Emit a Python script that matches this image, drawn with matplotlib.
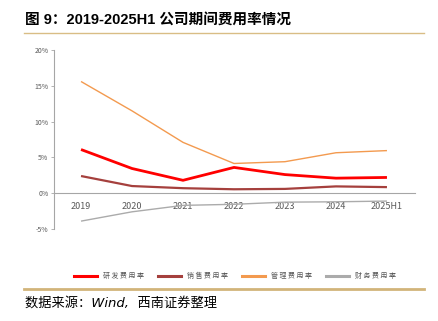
import matplotlib.pyplot as plt
from matplotlib.lines import Line2D

plt.rcParams['font.family'] = ['Noto Sans CJK SC', 'DejaVu Sans']

# 期间费用率（%）
years = ["2019", "2020", "2021", "2022", "2023", "2024", "2025H1"]
rd_rate = [6.1, 3.45, 1.8, 3.6, 2.6, 2.1, 2.2]
sales_rate = [2.4, 1.0, 0.7, 0.55, 0.6, 0.95, 0.85]
admin_rate = [15.6, 11.5, 7.1, 4.15, 4.4, 5.65, 5.95]
fin_rate = [-3.9, -2.6, -1.7, -1.55, -1.25, -1.2, -1.1]
yticks = [-5, 0, 5, 10, 15, 20]

series = [
    ("研发费用率", rd_rate, "#FF0000", 2.0),
    ("销售费用率", sales_rate, "#A5403D", 1.6),
    ("管理费用率", admin_rate, "#F39A4F", 1.0),
    ("财务费用率", fin_rate, "#ABABAB", 1.0),
]

W, H = 439, 321
fig = plt.figure(figsize=(W / 100, H / 100), dpi=100)
ax = fig.add_axes([54 / W, 1 - 229 / H, (415 - 54) / W, (229 - 50) / H])

x = list(range(len(years)))
for name, vals, color, lw in series:
    ax.plot(x, vals, color=color, linewidth=lw, solid_capstyle="butt")

ax.set_xlim(-0.53, 6.55)
ax.set_ylim(-5, 20)
ax.set_yticks(yticks)
ax.set_yticklabels([f"{v}%" for v in yticks], fontsize=5, color="#595959")
ax.tick_params(axis="y", length=2, width=0.6, color="#A6A6A6", pad=2)

# 横轴放在0%处，不画刻度线
ax.spines["bottom"].set_position(("data", 0))
ax.spines["bottom"].set_color("#A6A6A6")
ax.spines["bottom"].set_linewidth(0.8)
ax.spines["left"].set_color("#A6A6A6")
ax.spines["left"].set_linewidth(0.8)
ax.spines["top"].set_visible(False)
ax.spines["right"].set_visible(False)
ax.set_xticks(x)
ax.set_xticklabels(years, fontsize=6.5, color="#595959")
ax.tick_params(axis="x", length=0, pad=6)

# 图例
handles = [Line2D([], [], color=c, linewidth=2.2) for _, _, c, _ in series]
labels = [" ".join(n) for n, _, _, _ in series]
fig.legend(handles, labels, loc="center", bbox_to_anchor=(235 / W, 1 - 276 / H),
           ncol=4, frameon=False, fontsize=5, labelcolor="#595959",
           handlelength=3.3, columnspacing=2.0, handletextpad=0.9)

# 标题、分隔线、来源
fig.text(25 / W, 1 - 20 / H, "图 9：2019-2025H1 公司期间费用率情况",
         fontsize=10.5, fontweight="bold", va="center", ha="left",
         family=["Liberation Sans", "Noto Sans CJK SC"])
fig.add_artist(Line2D([24 / W, 424 / W], [1 - 33 / H, 1 - 33 / H],
                      color="#D9BD85", linewidth=1.0))
fig.add_artist(Line2D([24 / W, 424 / W], [1 - 289 / H, 1 - 289 / H],
                      color="#D2B47A", linewidth=2.0))
fig.text(25 / W, 1 - 303 / H, "数据来源：Wind,  西南证券整理",
         fontsize=9.5, style="italic", va="center", ha="left",
         family=["DejaVu Sans", "Noto Sans CJK SC"])

fig.savefig("out.png", dpi=100)
